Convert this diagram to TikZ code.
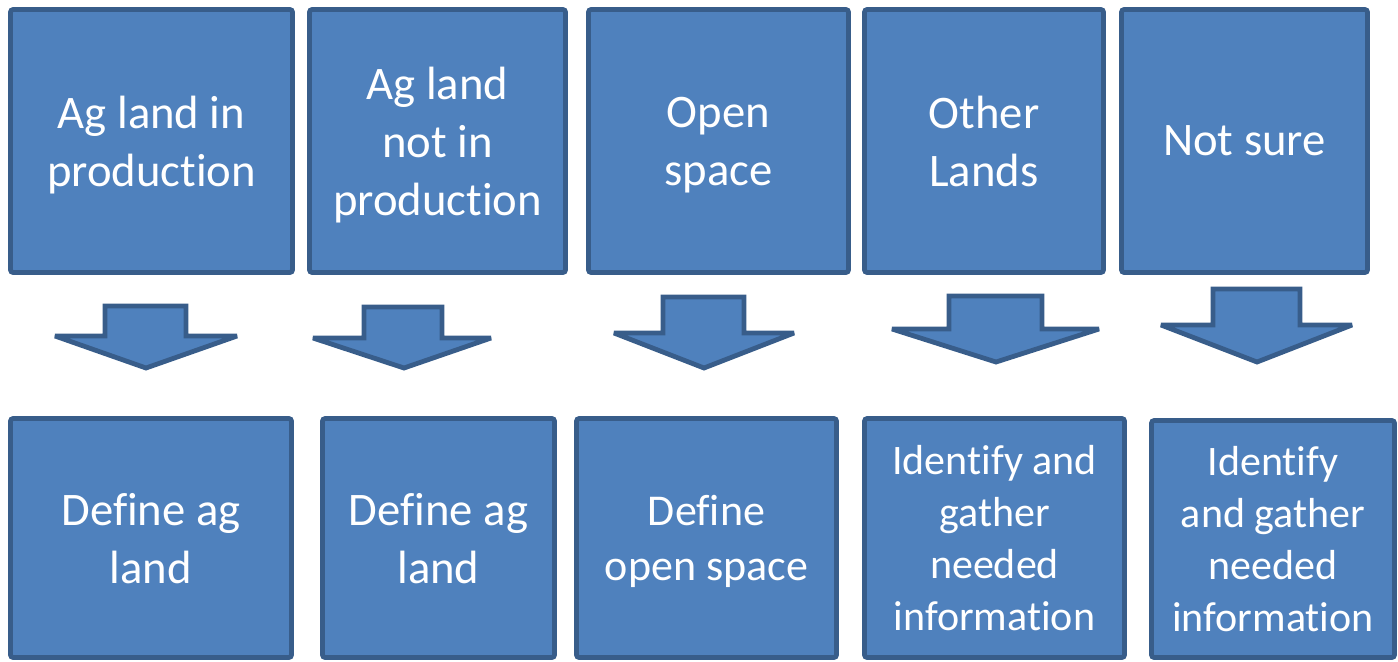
\documentclass[tikz,border=0pt]{standalone}
\usepackage{fontspec}
\setmainfont{Carlito}[Ligatures=NoCommon,Contextuals=NoAlternate]
\usetikzlibrary{positioning}

\definecolor{boxfill}{HTML}{4F81BD}
\definecolor{boxline}{HTML}{385D8A}

\begin{document}
\begin{tikzpicture}[x=0.75pt,y=-0.75pt,
stage/.style={draw=boxline,line width=3.6pt,fill=boxfill,rounded corners=2pt,text=white,align=center,inner sep=0pt,text depth=0pt,font=\fontsize{35}{43.5}\selectfont},
task/.style={stage,minimum height=179.25pt},
smalltask/.style={task,font=\fontsize{31.5}{39}\selectfont},
downblock/.style={draw=boxline,line width=3.6pt,fill=boxfill,line join=miter,miter limit=2}]
\useasboundingbox (0,0) rectangle (1398,661);
% land categories
\node[stage,minimum width=211.5pt,minimum height=197.25pt] (agin) at (151.5,141) {Ag land in\\production};
\node[stage,minimum width=192pt,minimum height=197.25pt] (agout) at (437.5,141) {Ag land\\not in\\production};
\node[stage,minimum width=195pt,minimum height=197.25pt] (open) at (718.5,141) {Open\\space};
\node[stage,minimum width=179.25pt,minimum height=197.25pt] (other) at (984,141) {Other\\Lands};
\node[stage,minimum width=184.5pt,minimum height=197.25pt] (unsure) at (1244.5,141) {Not sure};
% what to do next
\node[task,minimum width=210.75pt] (defagin) at (151,538) {Define ag\\land};
\node[task,minimum width=174pt] (defagout) at (438.5,538) {Define ag\\land};
\node[task,minimum width=195pt,font=\fontsize{33}{41}\selectfont] (defopen) at (706.5,538) {Define\\open space};
\node[smalltask,minimum width=195pt] (gatherother) at (994.5,538) {Identify and\\gather\\needed\\information};
\node[smalltask,minimum width=182.25pt,minimum height=177.75pt] (gatherunsure) at (1273,539) {Identify\\and gather\\needed\\information};
% block arrows
\draw[downblock] (105,306)--(186,306)--(186,336)--(237,336)--(146,368)--(55,336)--(105,336)--cycle;
\draw[downblock] (364,307)--(442,307)--(442,338)--(491,338)--(404,368)--(313,338)--(364,338)--cycle;
\draw[downblock] (663,297)--(744,297)--(744,333)--(794,333)--(704,368)--(614,333)--(663,333)--cycle;
\draw[downblock] (949,296)--(1042,296)--(1042,329)--(1099,329)--(996,362)--(892,329)--(949,329)--cycle;
\draw[downblock] (1213,289)--(1300,289)--(1300,325)--(1352,325)--(1257,362)--(1161,325)--(1213,325)--cycle;
\end{tikzpicture}
\end{document}
